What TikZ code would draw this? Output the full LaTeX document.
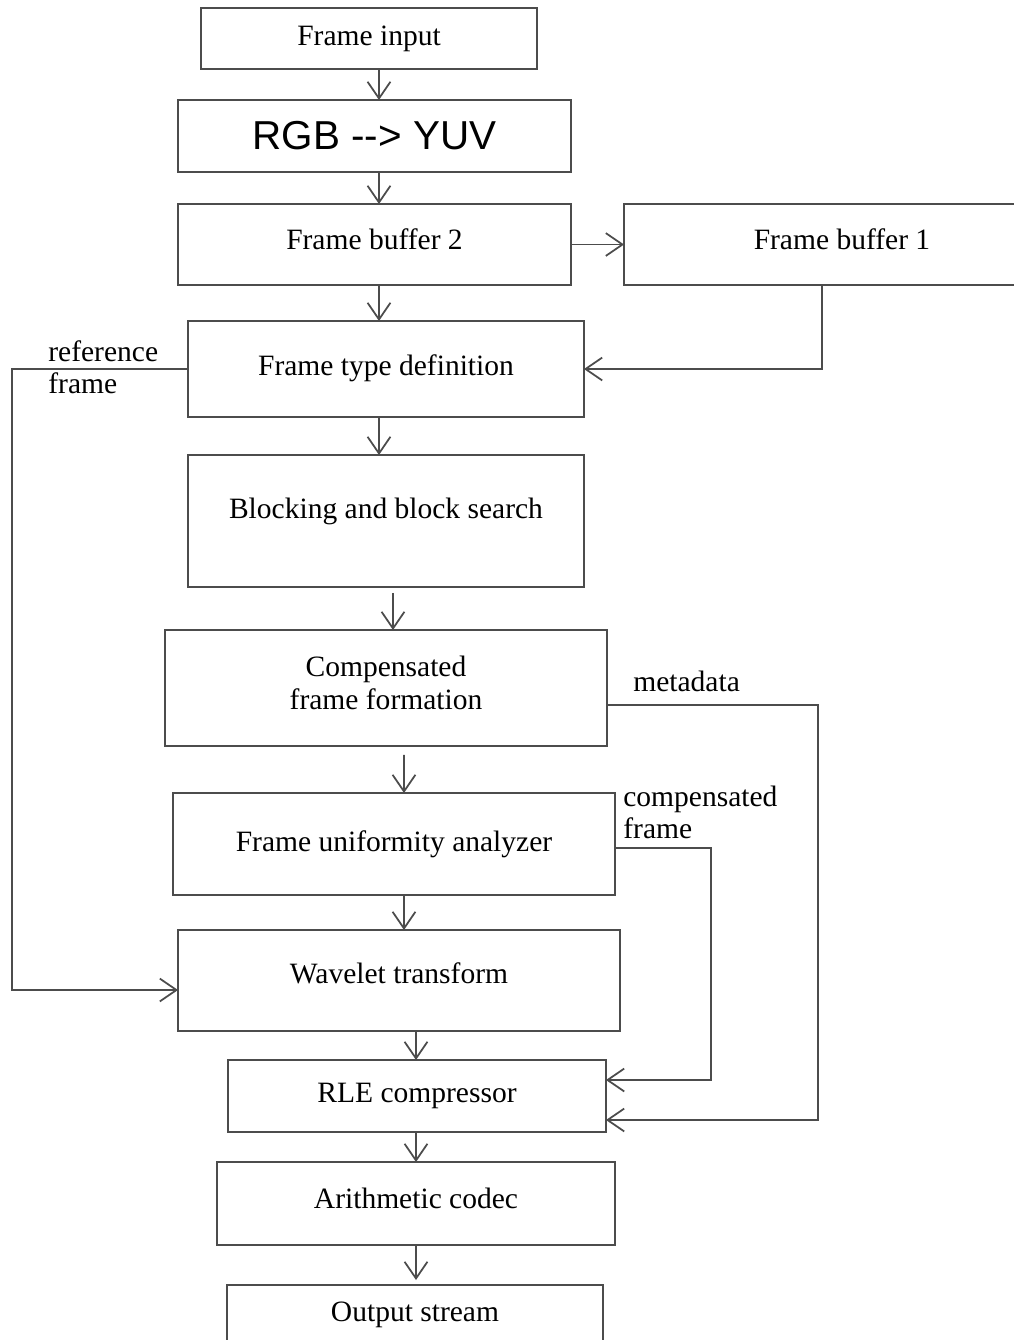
\documentclass[tikz,border=0pt]{standalone}
\usepackage{fontspec}
\setmainfont{Liberation Serif}
\newfontfamily\rgbfont{Liberation Sans}
\usetikzlibrary{arrows.meta}
\tikzset{
  blk/.style={draw=black!70, line width=1pt, inner sep=0pt, outer sep=0pt,
              align=center, font=\fontsize{16.8}{19}\selectfont},
  lbl/.style={inner sep=0pt, font=\fontsize{16.8}{19}\selectfont},
  arr/.style={draw=black!70, line width=1pt, -{Straight Barb[length=9.5pt,width=13pt]}}
}
\begin{document}
\begin{tikzpicture}[x=0.02cm, y=-0.02cm]
  \useasboundingbox (0,0) rectangle (1014,1340);
  \clip (0,0) rectangle (1014,1340);

  % main chain
  \node[blk, minimum width=6.72cm, minimum height=1.22cm] (fin) at (369,38.5) {Frame input};
  \node[blk, minimum width=7.86cm, minimum height=1.44cm, font=\rgbfont\fontsize{23}{26}\selectfont] (rgb) at (374.5,136) {RGB -{}-{}> YUV};
  \node[blk, minimum width=7.86cm, minimum height=1.62cm, text depth=0.2cm] (fb2) at (374.5,244.5) {Frame buffer 2};
  \node[blk, minimum width=8.72cm, minimum height=1.62cm, text depth=0.2cm] (fb1) at (842,244.5) {Frame buffer 1};
  \node[blk, minimum width=7.92cm, minimum height=1.92cm, text depth=0.16cm] (ftd) at (386,369) {Frame type definition};
  \node[blk, minimum width=7.92cm, minimum height=2.64cm, text depth=0.53cm] (bbs) at (386,521) {Blocking and block search};
  \node[blk, minimum width=8.84cm, minimum height=2.32cm, text depth=0.2cm] (cff) at (386,688) {Compensated\\frame formation};
  \node[blk, minimum width=8.84cm, minimum height=2.04cm] (fua) at (394,844) {Frame uniformity analyzer};
  \node[blk, minimum width=8.84cm, minimum height=2.02cm, text depth=0.28cm] (wt) at (399,980.5) {Wavelet transform};
  \node[blk, minimum width=7.56cm, minimum height=1.44cm] (rle) at (417,1096) {RLE compressor};
  \node[blk, minimum width=7.96cm, minimum height=1.66cm, text depth=0.2cm] (ac) at (416,1203.5) {Arithmetic codec};
  \node[blk, minimum width=7.52cm, minimum height=1.2cm] (os) at (415,1315) {Output stream};

  % downward arrows
  \draw[arr] ([xshift=0.2cm]fin.south) -- ([xshift=0.09cm]rgb.north);
  \draw[arr] ([xshift=0.09cm]rgb.south) -- ([xshift=0.09cm]fb2.north);
  \draw[arr] ([xshift=0.09cm]fb2.south) -- ([xshift=-0.14cm]ftd.north);
  \draw[arr] ([xshift=-0.14cm]ftd.south) -- ([xshift=-0.14cm]bbs.north);
  \draw[arr] ([xshift=0.14cm,yshift=-0.12cm]bbs.south) -- ([xshift=0.14cm]cff.north);
  \draw[arr] ([xshift=0.36cm,yshift=-0.18cm]cff.south) -- ([xshift=0.2cm]fua.north);
  \draw[arr] ([xshift=0.2cm]fua.south) -- ([xshift=0.1cm]wt.north);
  \draw[arr] ([xshift=0.34cm]wt.south) -- ([xshift=-0.02cm]rle.north);
  \draw[arr] ([xshift=-0.02cm]rle.south) -- (ac.north);
  \draw[arr] (ac.south) -- ([xshift=0.02cm,yshift=0.1cm]os.north);

  % buffers
  \draw[arr] (fb2.east) -- (fb1.west);
  \draw[arr] ([xshift=-0.4cm]fb1.south) |- (ftd.east);

  % reference frame
  \coordinate (reftop) at (12,369);
  \draw[arr] (ftd.west) -- (reftop) |- ([yshift=-0.19cm]wt.west);
  \node[lbl, anchor=base west] (reflbl1) at (48,361) {reference};
  \node[lbl, anchor=base west] (reflbl2) at (48,393) {frame};

  % metadata
  \coordinate (metax) at (818,705);
  \draw[arr] ([yshift=-0.34cm]cff.east) -- (metax) |- ([yshift=-0.48cm]rle.east);
  \node[lbl, anchor=base west] (metalbl) at (633,691) {metadata};

  % compensated frame
  \coordinate (compx) at (711,848);
  \draw[arr] ([yshift=-0.08cm]fua.east) -- (compx) |- ([yshift=0.32cm]rle.east);
  \node[lbl, anchor=base west] (complbl1) at (623,806) {compensated};
  \node[lbl, anchor=base west] (complbl2) at (623,838) {frame};
\end{tikzpicture}
\end{document}
